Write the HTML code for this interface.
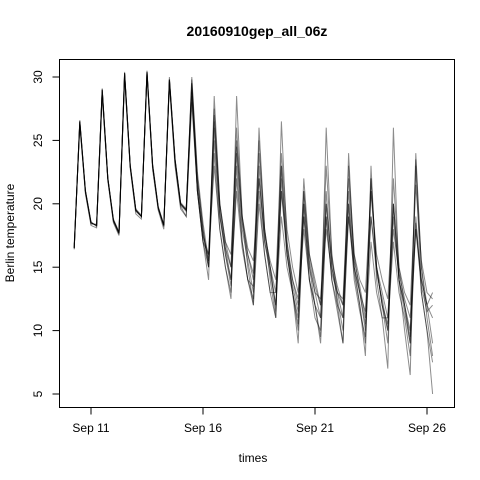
<!DOCTYPE html>
<html><head><meta charset="utf-8"><style>
html,body{margin:0;padding:0;background:#fff;}
svg{display:block;font-family:"Liberation Sans",Arial,sans-serif;}
</style></head><body>
<svg id="chart" width="480" height="480" viewBox="0 0 480 480">
<rect x="0" y="0" width="480" height="480" fill="#fff"/>
<text x="257" y="36" text-anchor="middle" font-size="14" font-weight="bold">20160910gep_all_06z</text>
<text x="253" y="462" text-anchor="middle" font-size="12">times</text>
<text transform="translate(14,233) rotate(-90)" text-anchor="middle" font-size="12">Berlin temperature</text>
<g id="series"></g>
<g id="axes"></g>
<rect x="59.5" y="59.5" width="395" height="348" fill="none" stroke="#000" stroke-width="1"/>
</svg>
<script>
// time in days relative to Sep 11 00z, 6-hourly from Sep 10 06z
const startDay = -0.75;
const stepDay = 0.25;
const xTickDays = [0, 5, 10, 15];
const xTickLabels = ["Sep 11", "Sep 16", "Sep 21", "Sep 26"];
const yTicks = [5, 10, 15, 20, 25, 30];
const memberA = [16.5,26.5,21,18.5, 18.3,29,22,18.7, 17.7,30.3,23,19.5, 19,30.4,23,19.7, 18.3,29.8,23.5,20, 19.5,29.8,22,18, 15,26,19,16, 14,24,18,15.5, 13,23,17,14.5, 12,21,16,13.5, 11.5,20,15.5,13, 11,21,15,13, 11,20,15,13, 10.5,19,14.5,12.5, 10,19,14,12, 10,18.5,14,12, 11];
const memberB = [16.8,26.2,20.8,18.3, 18.1,28.5,21.8,18.5, 17.5,29.8,22.8,19.2, 18.8,30.1,22.7,19.5, 18,29.5,23,19.6, 19,28.8,21,17, 14,28.5,20,17, 15,26,19,16, 14.5,25,18,15, 12,19,15,13, 11,22,16,13.5, 12,23,16,13, 12,21,15.5,13.5, 11,22,15,12, 9,20,14,11.5, 9,24,15,11, 8];
const memberC = [16.4,26.4,20.9,18.4, 18.4,29.1,22.1,18.8, 17.8,30.4,23.1,19.6, 19.1,30.5,23.2,19.8, 18.4,30,23.6,20.1, 19.6,29.5,21.5,17.5, 16,23,18,15, 13,22,17,14, 12,20,16,13, 13,23,17,14, 12,18,14,12, 9,19,14,12, 11,23,16,13, 10,17,13,11, 11,20,14,12, 9.5,18,13.5,11.5, 12];
const memberD = [16.6,26.6,21.1,18.6, 18.2,28.8,22,18.6, 17.6,30.2,22.9,19.4, 19,30.3,23,19.6, 18.2,29.7,23.4,19.9, 19.4,30,22.5,18.5, 15.5,27,20,16.5, 14,21,16.5,14, 13.5,24,18,15, 11.5,22,16,13, 10.5,19,14,12, 11,20,15,12.5, 10,19,14.5,12, 9,21,15,12, 10.5,17,13,11, 8,19,13,10, 7.5];
const memberE = [16.5,26.3,21,18.5, 18.3,28.9,22,18.7, 17.7,30.1,23,19.5, 19,30.2,23,19.7, 18.3,29.6,23.2,19.8, 19,28,21,17, 16,25,19,16.5, 15,24.5,18.5,16, 14,22,17,15, 13,21,16.5,14, 12.5,21,16,14, 12,20,15.5,13.5, 12,19,15,13, 11.5,19,15,13, 11,18,14.5,12.5, 11,18,14,12, 13];
const memberF = [16.5,26.5,21,18.5, 18.3,29,22,18.7, 17.7,30.3,23,19.5, 19,30.4,23,19.7, 18.3,29.8,23.5,20, 19.5,29,21,17, 15,24,18,15, 12.5,28.5,19,15, 12,26,18,14, 11,26.5,17,13, 9,20,14,11, 10,26,16,12, 9,24,15,12, 8,23,14,11, 7,26,14,10, 6.5,23,13,10, 5];
const memberG = [16.5,26.5,21,18.5, 18.3,29,22,18.7, 17.7,30.3,23,19.5, 19,30.4,23,19.7, 18.3,29.8,23.5,20, 19.5,28.5,21,17.5, 15.5,27.5,20,17, 16,25,19,16.5, 15.5,22,17.5,15.5, 14,24,18,15, 13,19,15,13, 12.5,18,14.5,13, 12.5,22,16,14, 13,21,16,14, 12.5,20,15,13, 12,21.5,15.5,13, 12.5];
const memberH = [16.5,26.5,21,18.5, 18.3,29,22,18.7, 17.7,30.3,23,19.5, 19,30.4,23,19.7, 18.3,29.8,23.5,20, 19.5,29.5,22,18, 15,26.5,19.5,16, 13.5,23,17,14, 12.5,21,16,13, 11,23,16,13, 10,21,15,12, 9.5,19,14,11.5, 9,20,14,11.5, 9.5,22,15,12, 10,22,15,12, 9,23.5,15,12, 9];
const members = [memberA, memberB, memberC, memberD, memberE, memberF, memberG, memberH];

const NS = "http://www.w3.org/2000/svg";
function xScale(d){ return 91 + (d - 0) * 22.4; }
function yScale(v){ return 394 - (v - 5) * (317/25); }

const series = document.getElementById('series');
members.forEach((m, i) => {
  const pts = m.map((v, k) => xScale(startDay + k*stepDay).toFixed(1) + "," + yScale(v).toFixed(1)).join(" ");
  const pl = document.createElementNS(NS, 'polyline');
  pl.setAttribute('points', pts);
  pl.setAttribute('fill', 'none');
  pl.setAttribute('stroke', 'rgba(0,0,0,0.45)');
  pl.setAttribute('stroke-width', '1');
  
  
  series.appendChild(pl);
});

const axes = document.getElementById('axes');
function add(tag, attrs, text){
  const e = document.createElementNS(NS, tag);
  for (const k in attrs) e.setAttribute(k, attrs[k]);
  if (text !== undefined) e.textContent = text;
  axes.appendChild(e);
  return e;
}
const xl = add('line', {x1: xScale(xTickDays[0]), x2: xScale(xTickDays[xTickDays.length-1]), y1: 407.5, y2: 407.5, stroke: '#000'});


xTickDays.forEach((d, i) => {
  const x = xScale(d);
  const t = add('line', {x1: x, x2: x, y1: 407.5, y2: 414.5, stroke: '#000'});
  
  
  const lb = add('text', {x: x, y: 432, 'text-anchor': 'middle', 'font-size': '12'}, xTickLabels[i]);
  
  
});
const yl = add('line', {x1: 59.5, x2: 59.5, y1: yScale(yTicks[0]), y2: yScale(yTicks[yTicks.length-1]), stroke: '#000'});


yTicks.forEach(v => {
  const y = yScale(v);
  const t = add('line', {x1: 52.5, x2: 59.5, y1: y, y2: y, stroke: '#000'});
  
  
  const lb = add('text', {transform: 'translate(42,' + y + ') rotate(-90)', 'text-anchor': 'middle', 'font-size': '12'}, String(v));
  
  
});
</script>
</body></html>
